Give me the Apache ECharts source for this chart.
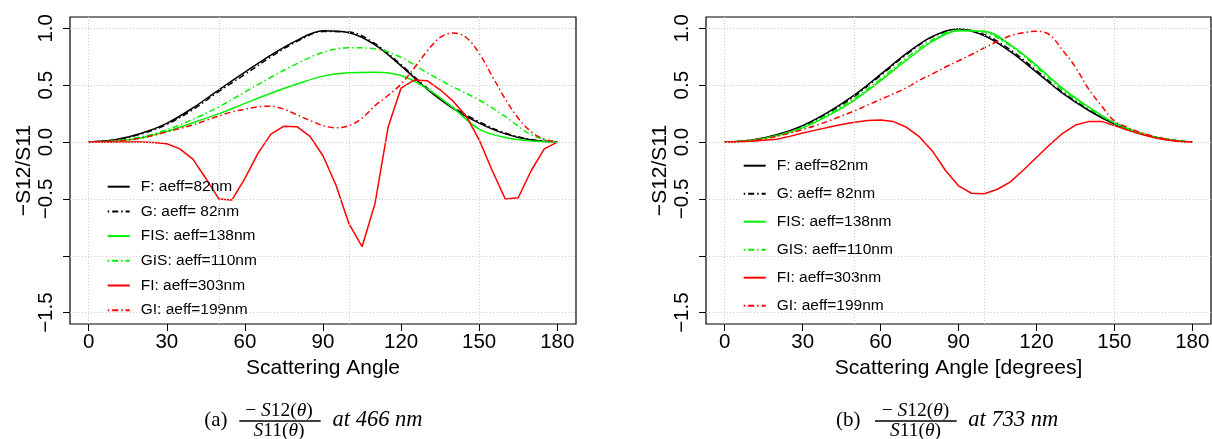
<!DOCTYPE html>
<html><head><meta charset="utf-8">
<script src="https://cdn.jsdelivr.net/npm/echarts@6/dist/echarts.min.js"></script>
<style>html,body{margin:0;padding:0;background:#fff}#c{width:1212px;height:439px}</style>
</head><body><div id="c"></div>
<script>
// ---------- data ----------
const angles10 = [0,10,20,30,40,50,60,70,80,90,100,110,120,130,140,150,160,170,180];
const angles5 = [0,5,10,15,20,25,30,35,40,45,50,55,60,65,70,75,80,85,90,95,100,105,110,115,120,125,130,135,140,145,150,155,160,165,170,175,180];
const xTickValues = [0,30,60,90,120,150,180];
const yTickValues = [-1.5,-1,-0.5,0,0.5,1];
const yLabelValues = [-1.5,-0.5,0,0.5,1];
const xGridValues = [0,50,100,150];
const yGridValues = [-1.5,-1,-0.5,0,0.5,1];
const legendNames = ['F: aeff=82nm','G: aeff= 82nm','FIS: aeff=138nm','GIS: aeff=110nm','FI: aeff=303nm','GI: aeff=199nm'];
const xNames = ['Scattering Angle','Scattering Angle [degrees]'];
const yName = '\u2212S12/S11';

// (a) 466 nm
const a_F   = [0,0.02,0.075,0.165,0.30,0.46,0.615,0.765,0.895,0.978,0.962,0.855,0.67,0.465,0.295,0.167,0.072,0.018,0];
const a_G   = [0,0.018,0.07,0.155,0.285,0.445,0.595,0.75,0.885,0.972,0.968,0.865,0.68,0.475,0.305,0.178,0.08,0.022,0];
const a_FIS = [0,0.008,0.035,0.094,0.17,0.25,0.34,0.43,0.51,0.58,0.61,0.615,0.585,0.47,0.30,0.114,0.04,0.01,0];
const a_GIS = [0,0.01,0.045,0.108,0.20,0.31,0.44,0.57,0.69,0.79,0.83,0.82,0.745,0.61,0.485,0.37,0.225,0.065,0];
const a_FI  = [0,0,0,0,0,-0.003,-0.015,-0.06,-0.15,-0.32,-0.50,-0.51,-0.32,-0.10,0.07,0.14,0.135,0.05,-0.12,-0.38,-0.72,-0.92,-0.54,0.13,0.475,0.545,0.54,0.46,0.36,0.23,0.02,-0.25,-0.50,-0.49,-0.25,-0.06,0];
const a_GI  = [0,0.002,0.008,0.018,0.035,0.06,0.09,0.12,0.15,0.19,0.23,0.265,0.29,0.31,0.315,0.29,0.24,0.19,0.145,0.125,0.145,0.21,0.32,0.41,0.51,0.65,0.80,0.92,0.96,0.92,0.78,0.58,0.38,0.21,0.09,0.025,0];

// (b) 733 nm
const b_F   = [0,0.016,0.065,0.145,0.265,0.415,0.595,0.78,0.93,0.995,0.935,0.795,0.615,0.43,0.28,0.16,0.075,0.025,0];
const b_G   = [0,0.015,0.062,0.14,0.258,0.405,0.585,0.77,0.925,0.993,0.945,0.81,0.63,0.44,0.285,0.162,0.075,0.024,0];
const b_FIS = [0,0.013,0.055,0.125,0.235,0.37,0.54,0.72,0.885,0.98,0.975,0.855,0.675,0.475,0.31,0.17,0.08,0.025,0];
const b_GIS = [0,0.014,0.058,0.13,0.245,0.385,0.555,0.74,0.90,0.985,0.965,0.845,0.66,0.46,0.30,0.168,0.078,0.024,0];
const b_FI  = [0,0.002,0.008,0.015,0.025,0.05,0.08,0.105,0.13,0.155,0.175,0.19,0.195,0.18,0.13,0.045,-0.08,-0.25,-0.385,-0.45,-0.455,-0.415,-0.35,-0.245,-0.135,-0.025,0.075,0.15,0.18,0.182,0.145,0.105,0.07,0.04,0.018,0.005,0];
const b_GI  = [0,0.003,0.012,0.028,0.05,0.078,0.11,0.145,0.185,0.23,0.275,0.325,0.375,0.425,0.478,0.545,0.60,0.66,0.715,0.77,0.83,0.885,0.935,0.962,0.975,0.945,0.81,0.66,0.47,0.32,0.185,0.13,0.085,0.05,0.025,0.008,0];

// ---------- styles ----------
const BLACK = '#000000', GREEN = '#00f000', RED = '#ff0000';
const DOTDASH = [1.5, 3, 6, 3];
const SANS = '"Liberation Sans", Arial, sans-serif';
const SERIF = '"Liberation Serif", "Times New Roman", serif';

function mk(name, angles, vals, gi, color, dashed, smooth) {
  return {
    name, type: 'line', xAxisIndex: gi, yAxisIndex: gi,
    data: angles.map((a, i) => [a, vals[i]]),
    symbol: 'none', smooth: smooth ? 0.35 : false, z: 3, silent: true, animation: false,
    lineStyle: { color, width: 1.5, type: dashed ? DOTDASH : 'solid' },
    itemStyle: { color }
  };
}
function gridSeries(gi) {
  return {
    name: '__grid' + gi, type: 'line', xAxisIndex: gi, yAxisIndex: gi, data: [], z: 1, silent: true,
    markLine: {
      silent: true, symbol: ['none', 'none'], label: { show: false }, animation: false,
      lineStyle: { color: '#cccccc', type: [1, 2], width: 1 },
      data: xGridValues.map(v => ({ xAxis: v })).concat(yGridValues.map(v => ({ yAxis: v })))
    }
  };
}
const fmtY = v => (v < 0 ? '\u2212' : '') + Math.abs(v).toFixed(1);

function xAxis(gi) {
  return {
    type: 'value', gridIndex: gi, min: -7.2, max: 187.2, position: 'bottom',
    name: xNames[gi], nameLocation: 'middle', nameGap: 32,
    nameTextStyle: { fontSize: 21, fontFamily: SANS, color: BLACK },
    axisLine: { show: false, onZero: false }, splitLine: { show: false },
    axisTick: { show: true, inside: false, length: 7, customValues: xTickValues, lineStyle: { color: BLACK, width: 1 } },
    axisLabel: { customValues: xTickValues, margin: 8, fontSize: 20.5, fontFamily: SANS, color: BLACK }
  };
}
function yAxis(gi) {
  return {
    type: 'value', gridIndex: gi, min: -1.6, max: 1.1, position: 'left',
    name: yName, nameLocation: 'middle', nameGap: 35, nameRotate: 90,
    nameTextStyle: { fontSize: 21, fontFamily: SANS, color: BLACK },
    axisLine: { show: false, onZero: false }, splitLine: { show: false },
    axisTick: { show: true, inside: false, length: 7, customValues: yTickValues, lineStyle: { color: BLACK, width: 1 } },
    axisLabel: { customValues: yLabelValues, rotate: 90, margin: 13, fontSize: 20.5, fontFamily: SANS, color: BLACK, formatter: fmtY }
  };
}
function legend(left, top, gap) {
  return {
    orient: 'vertical', left, top, itemWidth: 22, itemHeight: 10, itemGap: gap, padding: 0,
    selectedMode: false, data: legendNames,
    itemStyle: { opacity: 0 },
    textStyle: { fontSize: 15.5, fontFamily: SANS, color: BLACK, lineHeight: 16, padding: [0, 0, 0, 6] }
  };
}
function caption(cx, label, fracCx, barX1, barX2, atCx, atText) {
  const base = { fill: BLACK, align: 'center', verticalAlign: 'middle', textAlign: 'center', textVerticalAlign: 'middle' };
  return [
    { type: 'text', x: cx, y: 420, style: Object.assign({ text: label, fontSize: 21, fontFamily: SERIF }, base) },
    { type: 'text', x: fracCx, y: 411, style: Object.assign({ text: '\u2212 {i|S}12({i|\u03b8})', fontSize: 19.5, fontFamily: SERIF,
        rich: { i: { fontStyle: 'italic', fontSize: 19.5, fontFamily: SERIF } } }, base) },
    { type: 'line', shape: { x1: barX1, y1: 421, x2: barX2, y2: 421 }, style: { stroke: BLACK, lineWidth: 1.3 } },
    { type: 'text', x: fracCx, y: 431, style: Object.assign({ text: '{i|S}11({i|\u03b8})', fontSize: 19.5, fontFamily: SERIF,
        rich: { i: { fontStyle: 'italic', fontSize: 19.5, fontFamily: SERIF } } }, base) },
    { type: 'text', x: atCx, y: 420, style: Object.assign({ text: atText, fontSize: 22.5, fontStyle: 'italic', fontFamily: SERIF }, base) }
  ];
}

const series = [
  gridSeries(0), gridSeries(1),
  mk(legendNames[0], angles10, a_F, 0, BLACK, false, true),
  mk(legendNames[1], angles10, a_G, 0, BLACK, true, true),
  mk(legendNames[2], angles10, a_FIS, 0, GREEN, false, true),
  mk(legendNames[3], angles10, a_GIS, 0, GREEN, true, true),
  mk(legendNames[4], angles5, a_FI, 0, RED, false, false),
  mk(legendNames[5], angles5, a_GI, 0, RED, true, true),
  mk(legendNames[0], angles10, b_F, 1, BLACK, false, true),
  mk(legendNames[1], angles10, b_G, 1, BLACK, true, true),
  mk(legendNames[2], angles10, b_FIS, 1, GREEN, false, true),
  mk(legendNames[3], angles10, b_GIS, 1, GREEN, true, true),
  mk(legendNames[4], angles5, b_FI, 1, RED, false, false),
  mk(legendNames[5], angles5, b_GI, 1, RED, true, true)
];

const chart = echarts.init(document.getElementById('c'), null, { renderer: 'canvas' });
chart.setOption({
  animation: false,
  backgroundColor: '#ffffff',
  grid: [
    { left: 70, top: 17, width: 506, height: 307, show: true, borderColor: BLACK, borderWidth: 1.2, backgroundColor: 'transparent', outerBoundsMode: 'none', containLabel: false },
    { left: 706, top: 17, width: 505, height: 307, show: true, borderColor: BLACK, borderWidth: 1.2, backgroundColor: 'transparent', outerBoundsMode: 'none', containLabel: false }
  ],
  xAxis: [xAxis(0), xAxis(1)],
  yAxis: [yAxis(0), yAxis(1)],
  legend: [legend(106.7, 178.7, 8.7), legend(742.7, 157.7, 12)],
  series,
  graphic: caption(215.8, '(a)', 279, 239.3, 320.7, 377.5, 'at 466 nm')
    .concat(caption(848.3, '(b)', 915.5, 875, 956.7, 1013.3, 'at 733 nm'))
});
</script></body></html>
